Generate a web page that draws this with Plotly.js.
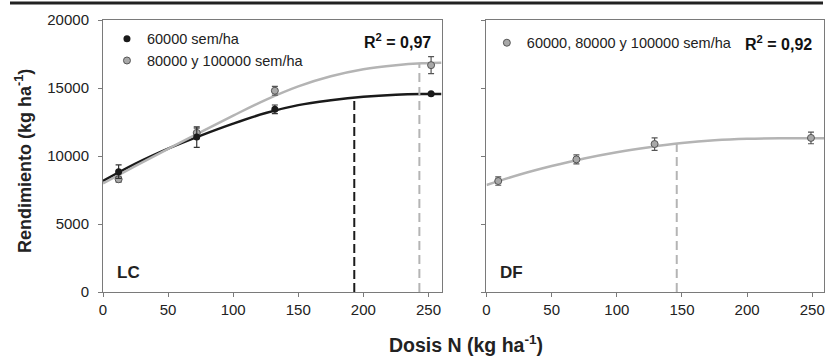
<!DOCTYPE html>
<html>
<head>
<meta charset="utf-8">
<script src="https://cdn.plot.ly/plotly-3.0.1.min.js"></script>
<style>html,body{margin:0;padding:0;background:#fff;}#chart{width:825px;height:356px;}</style>
</head>
<body>
<div id="chart"></div>
<script>
// ---------- data ----------
// LC panel: measured points
const lcDose = [12, 72, 132, 252];
const lc60Yield = [8850, 11390, 13430, 14570];
const lc60Err = [500, 750, 320, 100];
const lc80Yield = [8290, 11700, 14800, 16680];
const lc80Err = [220, 350, 320, 620];
// LC panel: fitted curves
const lcCurveDose = [0, 25, 50, 75, 100, 125, 150, 175, 200, 225, 245, 260];
const lc60Curve = [8160, 9440, 10540, 11500, 12380, 13160, 13740, 14100, 14360, 14510, 14560, 14560];
const lc80Curve = [7990, 9270, 10520, 11760, 12970, 14130, 15120, 15860, 16380, 16680, 16820, 16860];
// LC optimum doses (dashed verticals)
const lcOptDose = [193, 243];
const lcOptYield = [14310, 16800];

// DF panel
const dfDose = [9, 69, 129, 249];
const dfYield = [8160, 9750, 10880, 11330];
const dfErr = [310, 330, 460, 430];
const dfCurveDose = [0, 25, 50, 75, 100, 125, 150, 175, 200, 225, 250, 259];
const dfCurve = [7870, 8620, 9260, 9820, 10280, 10650, 10950, 11150, 11260, 11300, 11300, 11300];
const dfOptDose = [146];
const dfOptYield = [10920];

const xTicks = [0, 50, 100, 150, 200, 250];
const yTicks = [0, 5000, 10000, 15000, 20000];
const yTickText = ['0', '5000', '10000', '15000', '20000'];

const labels = {
  s60: '60000 sem/ha',
  s80: '80000 y 100000 sem/ha',
  sAll: '60000, 80000 y 100000 sem/ha',
  r2LC: '<b>R<sup>2</sup> = 0,97</b>',
  r2DF: '<b>R<sup>2</sup> = 0,92</b>',
  yTitle: '<b>Rendimiento (kg ha<sup>-1</sup>)</b>',
  xTitle: '<b>Dosis N (kg ha<sup>-1</sup>)</b>'
};

// ---------- styles ----------
const FONT = '"Liberation Sans", Arial, Helvetica, sans-serif';
const BLACK = '#1a1a1a';
const GRAY = '#b4b4b4';
const AXIS = '#7a7a7a';

const traces = [
  // curves
  {x: lcCurveDose, y: lc60Curve, xaxis: 'x', yaxis: 'y', mode: 'lines', line: {color: BLACK, width: 2.5, shape: 'spline'}, showlegend: false, hoverinfo: 'skip'},
  {x: lcCurveDose, y: lc80Curve, xaxis: 'x', yaxis: 'y', mode: 'lines', line: {color: GRAY, width: 2.5, shape: 'spline'}, showlegend: false, hoverinfo: 'skip'},
  // dashed optimum lines
  {x: [lcOptDose[0], lcOptDose[0]], y: [0, lcOptYield[0]], xaxis: 'x', yaxis: 'y', mode: 'lines', line: {color: BLACK, width: 2, dash: '9px,4px'}, showlegend: false},
  {x: [lcOptDose[1], lcOptDose[1]], y: [0, lcOptYield[1]], xaxis: 'x', yaxis: 'y', mode: 'lines', line: {color: GRAY, width: 2, dash: '9px,5px'}, showlegend: false},
  // points
  {x: lcDose, y: lc80Yield, xaxis: 'x', yaxis: 'y', mode: 'markers', name: labels.s80, legend: 'legend',
   marker: {color: '#a8a8a8', size: 7, line: {color: '#555', width: 1}},
   error_y: {type: 'data', array: lc80Err, visible: true, color: '#555', thickness: 1.2, width: 3}},
  {x: lcDose, y: lc60Yield, xaxis: 'x', yaxis: 'y', mode: 'markers', name: labels.s60, legend: 'legend',
   marker: {color: BLACK, size: 7, line: {color: BLACK, width: 0}},
   error_y: {type: 'data', array: lc60Err, visible: true, color: '#333', thickness: 1.2, width: 3}},
  // DF
  {x: dfCurveDose, y: dfCurve, xaxis: 'x2', yaxis: 'y2', mode: 'lines', line: {color: GRAY, width: 2.5, shape: 'spline'}, showlegend: false, hoverinfo: 'skip'},
  {x: [dfOptDose[0], dfOptDose[0]], y: [0, dfOptYield[0]], xaxis: 'x2', yaxis: 'y2', mode: 'lines', line: {color: GRAY, width: 2, dash: '9px,5px'}, showlegend: false},
  {x: dfDose, y: dfYield, xaxis: 'x2', yaxis: 'y2', mode: 'markers', name: labels.sAll, legend: 'legend2',
   marker: {color: '#a8a8a8', size: 7, line: {color: '#555', width: 1}},
   error_y: {type: 'data', array: dfErr, visible: true, color: '#555', thickness: 1.2, width: 3}}
];

const axisCommon = {
  showline: true, linecolor: AXIS, linewidth: 1, mirror: true,
  ticks: 'outside', ticklen: 4, tickcolor: AXIS, tickwidth: 1,
  showgrid: false, zeroline: false,
  tickfont: {family: FONT, size: 15, color: '#222'}
};

const layout = {
  width: 825, height: 356,
  margin: {l: 103, r: 1, t: 20, b: 64},
  paper_bgcolor: '#fff', plot_bgcolor: '#fff',
  font: {family: FONT, size: 15, color: '#222'},
  xaxis: Object.assign({}, axisCommon, {domain: [0, 0.4695], range: [0, 260], tickvals: xTicks, anchor: 'y'}),
  yaxis: Object.assign({}, axisCommon, {range: [0, 20000], tickvals: yTicks, ticktext: yTickText, anchor: 'x', ticklabelstandoff: 6}),
  xaxis2: Object.assign({}, axisCommon, {domain: [0.5319, 1], range: [0, 259], tickvals: xTicks, anchor: 'y2'}),
  yaxis2: Object.assign({}, axisCommon, {range: [0, 20000], tickvals: yTicks, anchor: 'x2', showticklabels: false}),
  legend: {x: 0.0055, y: 0.99, xanchor: 'left', yanchor: 'top', bgcolor: 'rgba(0,0,0,0)',
           font: {family: FONT, size: 14.5, color: '#222'}, traceorder: 'reversed', tracegroupgap: 0},
  legend2: {x: 0.5319 + 0.0005, y: 0.975, xanchor: 'left', yanchor: 'top', bgcolor: 'rgba(0,0,0,0)',
            font: {family: FONT, size: 14.5, color: '#222'}},
  annotations: [
    {xref: 'x domain', yref: 'y domain', x: 0.975, y: 0.923, xanchor: 'right', yanchor: 'middle', text: labels.r2LC, showarrow: false, font: {family: FONT, size: 16, color: '#111'}},
    {xref: 'x2 domain', yref: 'y2 domain', x: 0.97, y: 0.915, xanchor: 'right', yanchor: 'middle', text: labels.r2DF, showarrow: false, font: {family: FONT, size: 16, color: '#111'}},
    {xref: 'x domain', yref: 'y domain', x: 0.035, y: 0.0735, xanchor: 'left', yanchor: 'middle', text: '<b>LC</b>', showarrow: false, font: {family: FONT, size: 17, color: '#222'}},
    {xref: 'x2 domain', yref: 'y2 domain', x: 0.034, y: 0.0735, xanchor: 'left', yanchor: 'middle', text: '<b>DF</b>', showarrow: false, font: {family: FONT, size: 17, color: '#222'}},
    {xref: 'paper', yref: 'paper', x: (24 - 103) / 721, y: 0.482, xanchor: 'center', yanchor: 'middle', textangle: -90, text: labels.yTitle, showarrow: false, font: {family: FONT, size: 18, color: '#222'}},
    {xref: 'paper', yref: 'paper', x: (466 - 103) / 721, y: -0.19, xanchor: 'center', yanchor: 'middle', text: labels.xTitle, showarrow: false, font: {family: FONT, size: 19.5, color: '#222'}}
  ],
  shapes: [
    {type: 'line', xref: 'paper', yref: 'paper', x0: (10 - 103) / 721, x1: (823 - 103) / 721, y0: 1 + 17 / 272, y1: 1 + 17 / 272, line: {color: '#222', width: 3}}
  ]
};

Plotly.newPlot('chart', traces, layout, {displayModeBar: false, staticPlot: true});
</script>
</body>
</html>
